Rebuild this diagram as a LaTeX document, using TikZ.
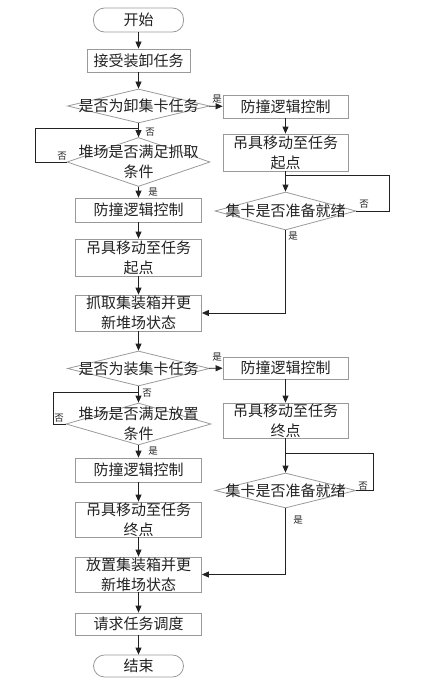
\documentclass[tikz,border=0pt]{standalone}
\usepackage{fontspec}
\newfontfamily\cjk{Noto Sans CJK SC}
\usetikzlibrary{shapes.geometric,arrows.meta}
\definecolor{bord}{HTML}{9A9A9A}
\definecolor{ink}{HTML}{222222}
\begin{document}
\begin{tikzpicture}[x=1pt,y=-1pt,
  font=\cjk\fontsize{15}{20}\selectfont,
  box/.style={draw=bord, line width=0.8pt, text=ink, align=center, minimum width=126pt, inner sep=0pt},
  term/.style={draw=bord, line width=0.8pt, text=ink, rounded corners=11pt, minimum width=90pt, inner sep=0pt},
  dia/.style={draw=bord, line width=0.8pt, diamond, inner sep=0pt, label={[text=ink,align=center,inner sep=0pt]center:#1}},
  lab/.style={font=\cjk\fontsize{9.5}{11}\selectfont, text=ink, inner sep=0pt},
  conn/.style={draw=ink, line width=0.8pt},
  arr/.style={conn, -{Triangle[length=7pt,width=6pt]}}
]
\useasboundingbox (0,0) rectangle (447,690);

% left column
\node[term, minimum height=24pt] (start) at (138.5,20) {开始};
\node[box, minimum width=103pt, minimum height=23pt] (t1) at (138.5,60.5) {接受装卸任务};
\node[dia={是否为卸集卡任务}, minimum width=142pt, minimum height=34pt] (d1) at (138.5,106) {};
\node[dia={堆场是否满足抓取\\条件}, minimum width=143pt, minimum height=49pt] (d2) at (138.5,162) {};
\node[box, minimum height=24pt] (b1) at (138.5,210) {防撞逻辑控制};
\node[box, minimum height=37pt] (b2) at (138.5,257.5) {吊具移动至任务\\起点};
\node[box, minimum height=36pt] (b3) at (138.5,313) {抓取集装箱并更\\新堆场状态};
\node[dia={是否为装集卡任务}, minimum width=142pt, minimum height=35pt] (d3) at (138.5,368.5) {};
\node[dia={堆场是否满足放置\\条件}, minimum width=145pt, minimum height=42pt] (d4) at (138.5,424) {};
\node[box, minimum height=24pt] (b4) at (138.5,470) {防撞逻辑控制};
\node[box, minimum height=35pt] (b5) at (138.5,519.5) {吊具移动至任务\\终点};
\node[box, minimum height=35pt] (b6) at (138.5,574.5) {放置集装箱并更\\新堆场状态};
\node[box, minimum height=22pt] (b7) at (138.5,624) {请求任务调度};
\node[term, minimum height=22pt] (end) at (138.5,666) {结束};

% right column
\node[box, minimum width=125pt, minimum height=23pt] (r1) at (285.5,106.5) {防撞逻辑控制};
\node[box, minimum width=125pt, minimum height=37pt] (r2) at (285.5,152.5) {吊具移动至任务\\起点};
\node[dia={集卡是否准备就绪}, minimum width=141pt, minimum height=38pt] (rd1) at (285.5,211) {};
\node[box, minimum width=125pt, minimum height=22pt] (r3) at (285.5,368) {防撞逻辑控制};
\node[box, minimum width=125pt, minimum height=35pt] (r4) at (285.5,420.5) {吊具移动至任务\\终点};
\node[dia={集卡是否准备就绪}, minimum width=141pt, minimum height=35pt] (rd2) at (285.5,490.5) {};

% loop corners
\coordinate (l1) at (35,128);
\coordinate (rl1) at (389,175);
\coordinate (l2) at (53,392);
\coordinate (rl2) at (373,453);

% connectors
\draw[arr] (start) -- (t1);
\draw[arr] (t1) -- (d1);
\draw[arr] (d1) -- (d2);
\draw[arr] (d2) -- (b1);
\draw[arr] (b1) -- (b2);
\draw[arr] (b2) -- (b3);
\draw[arr] (d1) -- (r1);
\draw[arr] (r1) -- (r2);
\draw[arr] (r2) -- (rd1);
\draw[arr] (rd1.south) |- (b3.east);
\draw[conn] (d2.west) -| (l1) -- (l1 -| d1.south);
\draw[conn] (rd1.east) -| (rl1) -- (rl1 -| rd1.north);

\draw[arr] (b3) -- (d3);
\draw[arr] (d3) -- (d4);
\draw[arr] (d4) -- (b4);
\draw[arr] (b4) -- (b5);
\draw[arr] (b5) -- (b6);
\draw[arr] (b6) -- (b7);
\draw[arr] (b7) -- (end);
\draw[arr] (d3) -- (r3);
\draw[arr] (r3) -- (r4);
\draw[arr] (r4) -- (rd2);
\draw[arr] (rd2.south) |- (b6.east);
\draw[conn] (d4.west) -| (l2) -- (l2 -| d3.south);
\draw[conn] (rd2.east) -| (rl2) -- (rl2 -| rd2.north);

% labels
\node[lab] (y1) at (217,99) {是};
\node[lab] (n1) at (150,132) {否};
\node[lab] (n2) at (62,156) {否};
\node[lab] (y2) at (153,192) {是};
\node[lab] (n3) at (364,204) {否};
\node[lab] (y3) at (293,236) {是};
\node[lab] (y4) at (217,357) {是};
\node[lab] (n4) at (147,393) {否};
\node[lab] (n5) at (59,418) {否};
\node[lab] (y5) at (153,451) {是};
\node[lab] (n6) at (363,486) {否};
\node[lab] (y6) at (298,520) {是};
\end{tikzpicture}
\end{document}
